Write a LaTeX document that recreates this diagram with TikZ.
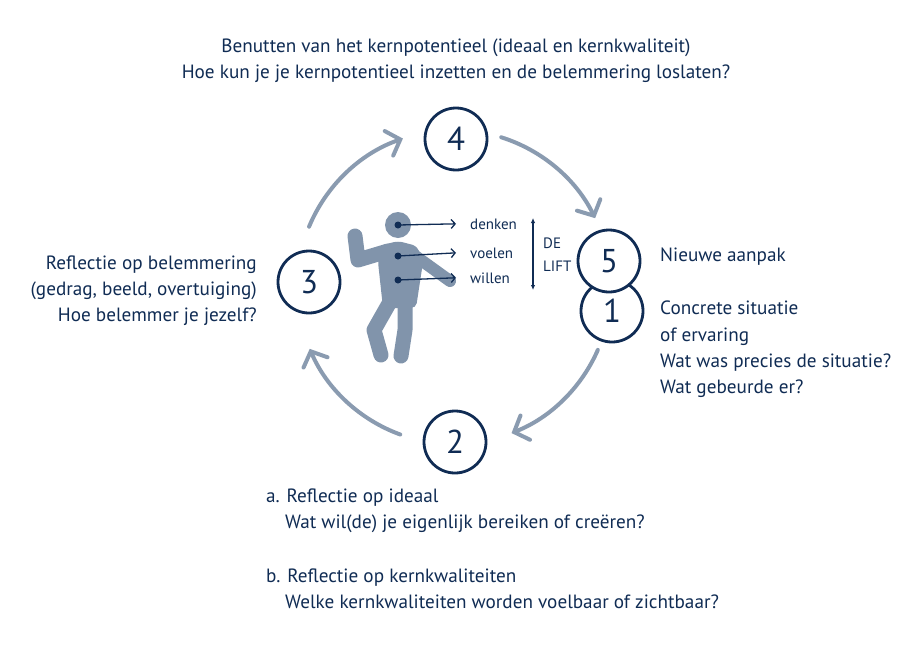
\documentclass[tikz,border=0pt]{standalone}
\usepackage{fontspec}
\setmainfont{PT Sans}
\usetikzlibrary{arrows.meta}
\definecolor{navy}{HTML}{102C54}
\definecolor{arcgrey}{HTML}{8A9BB0}
\definecolor{figgrey}{HTML}{8194AB}
\begin{document}
\begin{tikzpicture}[x=1pt,y=-1pt,
  num/.style={circle, draw=navy, line width=2.8pt, fill=white, minimum size=62pt, inner sep=0pt, font=\fontsize{33}{33}\selectfont, text=navy},
  txt/.style={font=\fontsize{19.2}{26}\selectfont, text=navy, inner sep=0pt},
  small/.style={font=\fontsize{15}{16}\selectfont, text=navy, inner sep=0pt},
  cyc/.style={draw=arcgrey, line width=4pt, line cap=round, -{Straight Barb[length=12pt,width=26pt,line cap=round]}},
  limb/.style={draw=figgrey, line cap=round, line join=round},
  pointer/.style={draw=navy, line width=1.3pt, -{Straight Barb[length=4pt,width=9pt]}},
  dot/.style={fill=navy}
]
\useasboundingbox (0,0) rectangle (912,645);
\fill[white] (0,0) rectangle (912,645);

% cycle arcs
\coordinate (cc) at (454,287);
\draw[cyc] ([shift={(cc)}]-72.5:157) arc[start angle=-72.5, end angle=-26, radius=157];
\draw[cyc] ([shift={(cc)}]23.6:157) arc[start angle=23.6, end angle=68.5, radius=157];
\draw[cyc] ([shift={(cc)}]110:157) arc[start angle=110, end angle=156.8, radius=157];
\draw[cyc] ([shift={(cc)}]-157.4:157) arc[start angle=-157.4, end angle=-109, radius=157];

% numbered circles
\node[num] (n4) at (456,139) {4};
\node[num] (n3) at (309,282) {3};
\node[num] (n2) at (455,442) {2};
\node[num] (n1) at (612,311) {1};
\node[num] (n5) at (609,261) {5};

% figure
\fill[figgrey] (398,225) circle[radius=13];
\fill[figgrey, rounded corners=5pt] (379,246) -- (398,241) -- (417,246) -- (423,262) -- (416,308) -- (383,308) -- (378,262) -- cycle;
\draw[limb, line width=15pt] (388,251) -- (358,260) -- (355,236);
\draw[limb, line width=12pt] (414,255) -- (450,281);
\draw[limb, line width=15pt] (405,300) -- (405,330) -- (401,356);
\draw[limb, line width=15pt] (391,300) -- (374,330) -- (381,355);

% denken / voelen / willen
\coordinate (dk) at (398,225);
\coordinate (vl) at (398,256);
\coordinate (wl) at (398,280);
\fill[dot] (dk) circle[radius=3.5];
\fill[dot] (vl) circle[radius=3.5];
\fill[dot] (wl) circle[radius=3.5];
\node[small, anchor=base west] (denken) at (470,229) {denken};
\node[small, anchor=base west] (voelen) at (470,258) {voelen};
\node[small, anchor=base west] (willen) at (470,283) {willen};
\draw[pointer] (dk) -- ([xshift=-14pt]denken.west);
\draw[pointer] (vl) -- ([xshift=-14pt]voelen.west);
\draw[pointer] (wl) -- ([xshift=-14pt]willen.west);

% de lift
\coordinate (lt) at (533,218);
\coordinate (lb) at (533,290);
\draw[navy, line width=1.1pt, {Latex[length=5pt,width=4.5pt]}-{Latex[length=5pt,width=4.5pt]}] (lt) -- (lb);
\node[small, anchor=base west] (de) at (543,248) {DE};
\node[small, anchor=base west] (lift) at (543,271) {LIFT};

% top text
\node[txt, anchor=base] (t1) at (456,52) {Benutten van het kernpotentieel (ideaal en kernkwaliteit)};
\node[txt, anchor=base] (t2) at (456,78) {Hoe kun je je kernpotentieel inzetten en de belemmering loslaten?};

% left text
\node[txt, anchor=base east] (l1) at (257,269) {Reflectie op belemmering};
\node[txt, anchor=base east] (l2) at (257,295) {(gedrag, beeld, overtuiging)};
\node[txt, anchor=base east] (l3) at (257,321) {Hoe belemmer je jezelf?};

% right text
\node[txt, anchor=base west] (r0) at (660,261) {Nieuwe aanpak};
\node[txt, anchor=base west] (r1) at (660,314) {Concrete situatie};
\node[txt, anchor=base west] (r2) at (660,341) {of ervaring};
\node[txt, anchor=base west] (r3) at (660,367) {Wat was precies de situatie?};
\node[txt, anchor=base west] (r4) at (660,393) {Wat gebeurde er?};

% bottom text
\node[txt, anchor=base west] (b1) at (266,502) {a. Reflectie op ideaal};
\node[txt, anchor=base west] (b2) at (285,528) {Wat wil(de) je eigenlijk bereiken of creëren?};
\node[txt, anchor=base west] (b3) at (266,582) {b. Reflectie op kernkwaliteiten};
\node[txt, anchor=base west] (b4) at (285,608) {Welke kernkwaliteiten worden voelbaar of zichtbaar?};
\end{tikzpicture}
\end{document}
